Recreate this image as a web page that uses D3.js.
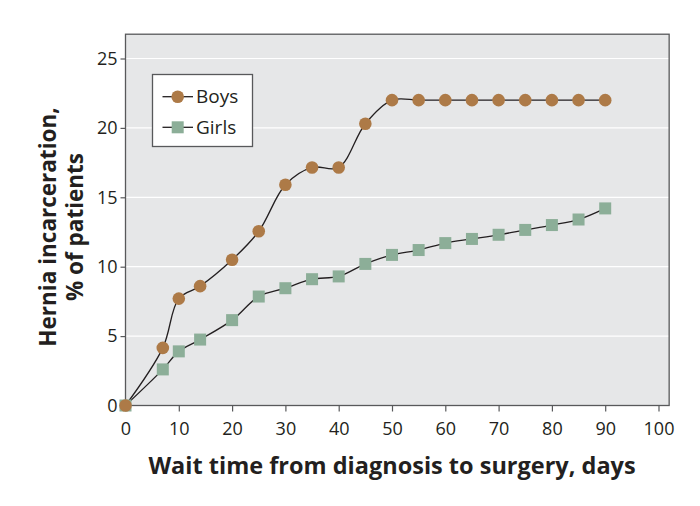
<!DOCTYPE html>
<html>
<head>
<meta charset="utf-8">
<script src="https://cdn.jsdelivr.net/npm/d3@7"></script>
<style>
  body { margin: 0; background: #fff; }
  text { font-family: "Open Sans", "Noto Sans", sans-serif; fill: #231f20; }
</style>
</head>
<body>
<div id="chart"></div>
<script>
// data
const boysDays = [0, 7, 10, 14, 20, 25, 30, 35, 40, 45, 50, 55, 60, 65, 70, 75, 80, 85, 90];
const boysPct = [0, 4.15, 7.7, 8.6, 10.5, 12.55, 15.9, 17.15, 17.15, 20.3, 22, 22, 22, 22, 22, 22, 22, 22, 22];
const girlsDays = [0, 7, 10, 14, 20, 25, 30, 35, 40, 45, 50, 55, 60, 65, 70, 75, 80, 85, 90];
const girlsPct = [0, 2.6, 3.9, 4.75, 6.15, 7.85, 8.45, 9.1, 9.3, 10.2, 10.85, 11.2, 11.7, 12.0, 12.3, 12.65, 13.0, 13.4, 14.2];
const xTicks = [0, 10, 20, 30, 40, 50, 60, 70, 80, 90, 100];
const yTicks = [0, 5, 10, 15, 20, 25];
const seriesNames = ['Boys', 'Girls'];

const W = 700, H = 506;
const svg = d3.select('#chart').append('svg')
    .attr('width', W).attr('height', H);

// scales
const x = d3.scaleLinear().domain([0, 100]).range([125.5, 658.5]);
const y = d3.scaleLinear().domain([0, 25]).range([405.5, 58.5]);
const xMax = 102, yMax = 26.75;

// plot background
svg.append('rect')
    .attr('x', x(0)).attr('y', y(yMax))
    .attr('width', x(xMax) - x(0)).attr('height', y(0) - y(yMax))
    .attr('fill', '#e6e7e8');

// grid lines
svg.append('g').selectAll('line')
    .data(yTicks.filter(d => d > 0))
    .enter().append('line')
    .attr('x1', x(0)).attr('x2', x(xMax))
    .attr('y1', d => y(d)).attr('y2', d => y(d))
    .attr('stroke', '#fff').attr('stroke-width', 1.2);

// frame
svg.append('rect')
    .attr('x', x(0)).attr('y', y(yMax))
    .attr('width', x(xMax) - x(0)).attr('height', y(0) - y(yMax))
    .attr('fill', 'none').attr('stroke', '#58595b').attr('stroke-width', 1.3);

// axes
const xAxis = svg.append('g')
    .attr('transform', 'translate(0,' + y(0) + ')')
    .call(d3.axisBottom(x).tickValues(xTicks).tickSize(6).tickPadding(11).tickSizeOuter(0));
const yAxis = svg.append('g')
    .attr('transform', 'translate(' + x(0) + ',0)')
    .call(d3.axisLeft(y).tickValues(yTicks).tickSize(5).tickPadding(3).tickSizeOuter(0));
[xAxis, yAxis].forEach(a => {
    a.select('.domain').remove();
    a.selectAll('line').attr('stroke', '#58595b').attr('stroke-width', 1.2);
    a.selectAll('text').style('font-size', '18px').attr('fill', '#231f20');
});

// lines
const boys = boysDays.map((d, i) => ({ x: d, y: boysPct[i] }));
const girls = girlsDays.map((d, i) => ({ x: d, y: girlsPct[i] }));
const line = d3.line()
    .x(d => x(d.x)).y(d => y(d.y))
    .curve(d3.curveCatmullRom.alpha(0.5));

svg.append('path').datum(boys).attr('d', line)
    .attr('fill', 'none').attr('stroke', '#231f20').attr('stroke-width', 1.3);
svg.append('path').datum(girls).attr('d', line)
    .attr('fill', 'none').attr('stroke', '#231f20').attr('stroke-width', 1.3);

const boyColor = '#ad7a47', girlColor = '#8cae98';

svg.append('g').selectAll('rect')
    .data(girls)
    .enter().append('rect')
    .attr('x', d => x(d.x) - 6).attr('y', d => y(d.y) - 6)
    .attr('width', 12).attr('height', 12)
    .attr('fill', girlColor);

svg.append('g').selectAll('circle')
    .data(boys)
    .enter().append('circle')
    .attr('cx', d => x(d.x)).attr('cy', d => y(d.y))
    .attr('r', 6.3)
    .attr('fill', boyColor);

// legend
const leg = svg.append('g');
leg.append('rect')
    .attr('x', 152.5).attr('y', 74.5).attr('width', 100).attr('height', 72)
    .attr('fill', '#fff').attr('stroke', '#58595b').attr('stroke-width', 1.3);
seriesNames.forEach((name, i) => {
    const cy = 96.7 + i * 30.6;
    leg.append('line')
        .attr('x1', 162.5).attr('x2', 193).attr('y1', cy).attr('y2', cy)
        .attr('stroke', '#231f20').attr('stroke-width', 1.3);
    if (i === 0) {
        leg.append('circle').attr('cx', 177.7).attr('cy', cy).attr('r', 6.3).attr('fill', boyColor);
    } else {
        leg.append('rect').attr('x', 171.7).attr('y', cy - 6).attr('width', 12).attr('height', 12).attr('fill', girlColor);
    }
    leg.append('text')
        .attr('x', 196).attr('y', cy + 6.5)
        .style('font-size', '19px')
        .text(name);
});

// axis titles
svg.append('text')
    .attr('x', 392).attr('y', 474)
    .attr('text-anchor', 'middle')
    .style('font-size', '23.5px').style('font-weight', 'bold')
    .text('Wait time from diagnosis to surgery, days');

const yt = svg.append('text')
    .attr('transform', 'translate(0,227) rotate(-90)')
    .attr('text-anchor', 'middle')
    .style('font-size', '22.5px').style('font-weight', 'bold');
yt.append('tspan').attr('x', 0).attr('y', 56).text('Hernia incarceration,');
yt.append('tspan').attr('x', 0).attr('y', 83).text('% of patients');
</script>
</body>
</html>
